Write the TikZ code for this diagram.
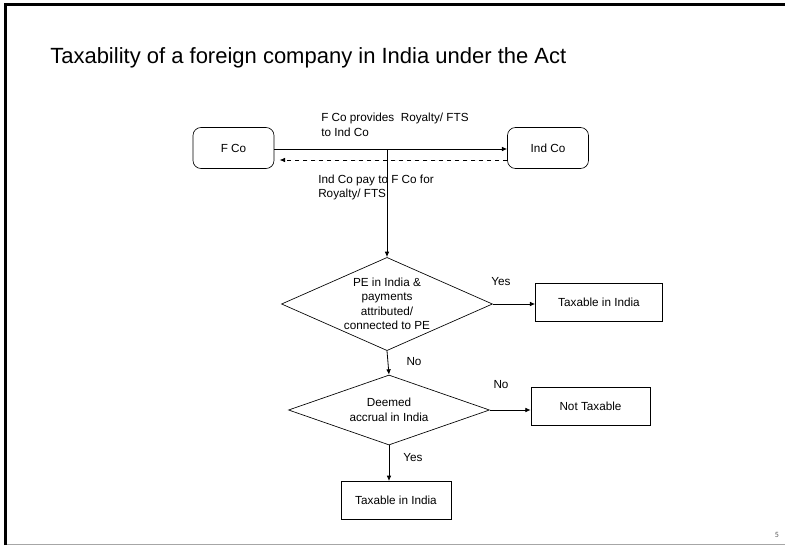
\documentclass[tikz,border=0pt]{standalone}
\usepackage{fontspec}
\setmainfont{Liberation Sans}
\newfontfamily\pagefont{Carlito}
\usetikzlibrary{
  positioning, arrows.meta, shapes.geometric, calc,
}
\definecolor{cFrame}  {HTML}{000000}
\definecolor{cRule}   {HTML}{A6A6A6}
\definecolor{cPageNo} {HTML}{595959}

\begin{document}
\begin{tikzpicture}[x=0.75pt, y=-0.75pt,
    flow/.style={font=\fontsize{8.8}{10.9}\selectfont},
    roundbox/.style={flow, draw, rounded corners=6pt, minimum width=60.75pt, minimum height=30.75pt, line width=0.5pt},
    plainbox/.style={flow, draw, minimum height=28.75pt, line width=0.5pt},
    decision/.style={flow, draw, diamond, align=center, inner sep=0pt, line width=0.5pt},
    lbl/.style={flow, align=left, inner sep=0pt},
    link/.style={-{Latex[length=4pt, width=3.5pt]}, line width=0.6pt},
  ]
  \useasboundingbox (0,0) rectangle (785,546);
  % slide frame
  \draw[cRule, line width=0.75pt] (5,544) -- (785,544);
  \draw[cFrame, line width=2.25pt] (5,545) -- (5,4) -- (785,4);
  \node[anchor=west, inner sep=0pt, font=\fontsize{16.5}{19}\selectfont] (title) at (50,58)
        {Taxability of a foreign company in India under the Act};

  \node[roundbox] (fco)   at (233.5,148) {F Co};
  \node[roundbox] (indco) at (548,148)   {Ind Co};

  \node[decision, aspect=2.1, minimum width=158.25pt, minimum height=69pt] (pe) at (387,304)
        {PE in India \&\\payments\\attributed/\\connected to PE};
  \node[plainbox, minimum width=95.25pt] (taxA) at (599,302) {Taxable in India};

  \node[decision, aspect=2.87, minimum width=150.75pt, minimum height=52.5pt] (deemed) at (389,410)
        {Deemed\\accrual in India};
  \node[plainbox, minimum width=89.25pt] (nottax) at (590.5,406.5) {Not Taxable};
  \node[plainbox, minimum width=82.5pt] (taxB) at (396,500.5) {Taxable in India};

  \draw[link] ([yshift=-0.75pt]fco.east) -- ([yshift=-0.75pt]indco.west);
  \draw[link, dashed, shorten >=4pt] ([yshift=-9pt]indco.west) -- ([yshift=-9pt]fco.east);
  \coordinate (split) at ($(pe.north |- fco.east) + (0,1)$);
  \draw[link] (split) -- (pe.north);
  \draw[link] (pe.east) -- (pe.east -| taxA.west);
  \draw[link] (pe.south) -- (deemed.north);
  \draw[link] (deemed.east) -- (deemed.east -| nottax.west);
  \draw[link] (deemed.south) -- (deemed.south |- taxB.north);

  \node[lbl, anchor=north west] (provides) at (321,113) {F Co provides\ \ Royalty/ FTS\\to Ind Co};
  \node[lbl, anchor=north west] (pays)     at (318,174.5) {Ind Co pay to F Co for\\Royalty/ FTS};
  \node[lbl] (yesA) at (501,282) {Yes};
  \node[lbl] (noA)  at (414,362) {No};
  \node[lbl] (noB)  at (501,385) {No};
  \node[lbl] (yesB) at (413,458) {Yes};

  \node[text=cPageNo, inner sep=0pt, font=\pagefont\fontsize{6}{7}\selectfont] (pageno) at (777,535) {5};
\end{tikzpicture}
\end{document}
